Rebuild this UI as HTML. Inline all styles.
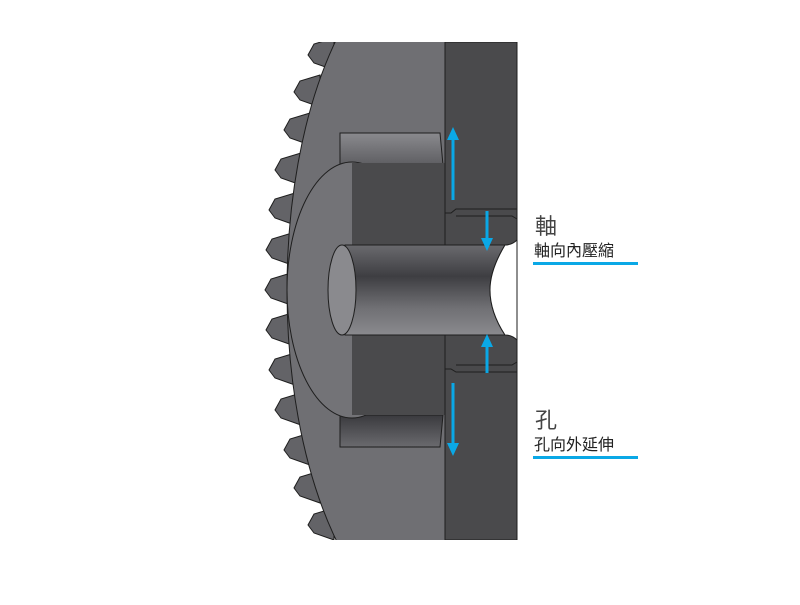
<!DOCTYPE html>
<html><head><meta charset="utf-8"><style>
body{margin:0;background:#fff;width:800px;height:600px;overflow:hidden}
</style></head><body>
<svg width="800" height="600" viewBox="0 0 800 600" xmlns="http://www.w3.org/2000/svg">
<defs>
<linearGradient id="bore" x1="0" y1="0" x2="0" y2="1">
<stop offset="0" stop-color="#6a6a6e"/><stop offset="0.35" stop-color="#3e3e42"/><stop offset="0.7" stop-color="#707074"/><stop offset="1" stop-color="#8a8a8e"/>
</linearGradient>
<linearGradient id="band" x1="0" y1="0" x2="0" y2="1">
<stop offset="0" stop-color="#8a8a8e"/><stop offset="1" stop-color="#5e5e62"/>
</linearGradient>
<linearGradient id="band2" x1="0" y1="0" x2="0" y2="1">
<stop offset="0" stop-color="#3a3a3e"/><stop offset="1" stop-color="#6a6a6e"/>
</linearGradient>
<clipPath id="c"><rect x="0" y="42" width="517.5" height="498"/></clipPath>
<clipPath id="g"><rect x="0" y="42" width="445" height="498"/></clipPath>
</defs>
<g clip-path="url(#c)" stroke="#1e1e1e" stroke-width="1">
<g fill="#636367">
<polygon points="334,38 314,44 308,55 314,63 334,70"/>
<polygon points="320,75 300,81 294,92 300,100 320,107"/>
<polygon points="310,113 290,119 284,130 290,138 310,145"/>
<polygon points="301,153 281,159 275,170 281,178 301,185"/>
<polygon points="295,193 275,199 269,210 275,218 295,225"/>
<polygon points="292,233 272,239 266,250 272,258 292,265"/>
<polygon points="291,273 271,279 265,290 271,298 291,305"/>
<polygon points="292,313 272,319 266,330 272,338 292,345"/>
<polygon points="295,353 275,359 269,370 275,378 295,385"/>
<polygon points="301,393 281,399 275,410 281,418 301,425"/>
<polygon points="310,433 290,439 284,450 290,458 310,465"/>
<polygon points="320,471 300,477 294,488 300,496 320,503"/>
<polygon points="334,508 314,514 308,525 314,533 334,540"/>
</g>
<ellipse cx="445" cy="290" rx="158" ry="345" fill="#6f6f73" clip-path="url(#g)"/>
<path d="M340,133 L440,133 L443,165 L340,165 Z" fill="url(#band)"/>
<path d="M340,415 L443,415 L440,447 L340,447 Z" fill="url(#band2)"/>
<ellipse cx="352" cy="290" rx="65" ry="128" fill="#737377"/>
<rect x="352" y="163" width="93" height="252" fill="#4a4a4c" stroke="none"/>
<rect x="445" y="42" width="72" height="498" fill="#4a4a4c"/>
<g fill="none">
<line x1="445" y1="42" x2="445" y2="213"/>
<path d="M445,213 L451,213 L456,209 L517,209"/>
<path d="M456,216 L512,216 L517,219"/>
<path d="M445,369 L451,369 L456,372 L517,372"/>
<path d="M456,365 L512,365 L517,362"/>
<line x1="445" y1="369" x2="445" y2="540"/>
</g>
<path d="M345,245 L505,245 Q490,270 490,290 Q490,312 505,335 L345,335 Z" fill="url(#bore)"/>
<ellipse cx="342" cy="290" rx="14" ry="45" fill="#8a8a8e"/>
<path d="M505,245 Q490,270 490,290 Q490,312 505,335 Q512,335 517,340 L517,240 Q512,245 505,245 Z" fill="#fff" stroke="#1e1e1e"/>
<line x1="517" y1="42" x2="517" y2="540"/>
</g>
<g stroke="#0aa8e6" stroke-width="3" fill="#0aa8e6">
<line x1="453" y1="200" x2="453" y2="140"/><polygon points="447,140 459,140 453,127" stroke="none"/>
<line x1="487" y1="211" x2="487" y2="240"/><polygon points="481,238 493,238 487,251" stroke="none"/>
<line x1="487" y1="373" x2="487" y2="345"/><polygon points="481,347 493,347 487,334" stroke="none"/>
<line x1="453" y1="383" x2="453" y2="445"/><polygon points="447,443 459,443 453,456" stroke="none"/>
</g>
<g font-family="'Liberation Sans','Noto Sans CJK TC',sans-serif" fill="#222">
<text x="535" y="234" font-size="22" fill="#444">軸</text>
<text x="534" y="256" font-size="16">軸向內壓縮</text>
<text x="535" y="428" font-size="22" fill="#444">孔</text>
<text x="534" y="450" font-size="16">孔向外延伸</text>
</g>
<rect x="533" y="262" width="105" height="3" fill="#0aa8e6"/>
<rect x="533" y="456" width="105" height="3" fill="#0aa8e6"/>
</svg>
</body></html>
